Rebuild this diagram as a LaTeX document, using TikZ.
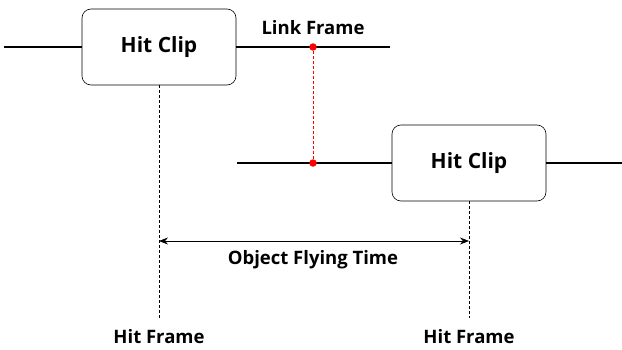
\documentclass[tikz,border=0pt]{standalone}
\usepackage{fontspec}
\setmainfont{Open Sans}[BoldFont={* Bold}]
\usetikzlibrary{arrows.meta}

\begin{document}
\begin{tikzpicture}[
    x=1pt, y=1pt,
    clip box/.style={draw=black, line width=0.6pt, rounded corners=9pt, fill=white,
        minimum width=154pt, minimum height=76pt, inner sep=0pt, font=\fontsize{21}{24}\selectfont\bfseries},
    track/.style={line width=1.8pt},
    link dot/.style={circle, fill=red, inner sep=0pt, minimum size=7.5pt},
    guide/.style={line width=0.6pt, dash pattern=on 3pt off 2pt},
    label/.style={font=\fontsize{18.5}{21}\selectfont\bfseries, inner sep=0pt}
]
\useasboundingbox (0,0) rectangle (622,349);

% Primer clip (arriba)
\node[clip box] (clipA) at (159,302) {Hit Clip};
\coordinate (a0) at (4,302);
\coordinate (a1) at (390,302);
\draw[track] (a0) -- (clipA.west);
\draw[track] (clipA.east) -- (a1);

% Segundo clip (abajo)
\node[clip box] (clipB) at (469,186) {Hit Clip};
\coordinate (b0) at (237,186);
\coordinate (b1) at (622,186);
\draw[track] (b0) -- (clipB.west);
\draw[track] (clipB.east) -- (b1);

% Link frame en ambas pistas
\node[link dot] (linkA) at (313,302) {};
\node[link dot] (linkB) at (313,186) {};
\draw[guide, red] (linkA) -- (linkB);
\node[label] (linkLbl) at (313,321) {Link Frame};

% Hit frames
\coordinate (hitA) at (159,31);
\coordinate (hitB) at (469,31);
\draw[guide] (clipA.south) -- (hitA);
\draw[guide] (clipB.south) -- (hitB);
\node[label] (hitAlbl) at (159,12) {Hit Frame};
\node[label] (hitBlbl) at (469,12) {Hit Frame};

% Tiempo de vuelo
\coordinate (flyA) at (159,108);
\coordinate (flyB) at (469,108);
\draw[line width=0.8pt, {Stealth[length=9pt,width=7pt]}-{Stealth[length=9pt,width=7pt]}] (flyA) -- (flyB);
\node[label] (flyLbl) at (313,89) {Object Flying Time};
\end{tikzpicture}
\end{document}
